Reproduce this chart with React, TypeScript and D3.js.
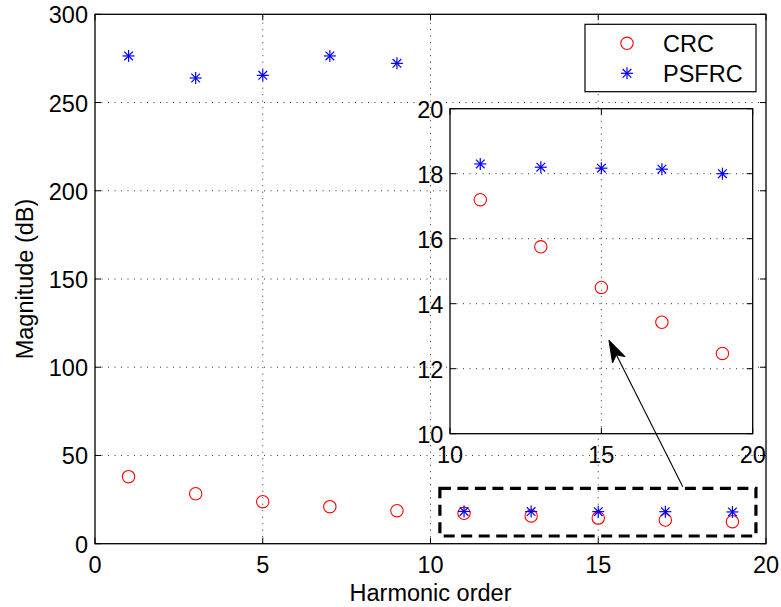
import React from "react";
import * as d3 from "d3";

const harmonics = [1, 3, 5, 7, 9, 11, 13, 15, 17, 19];
const crcValues = [38.0, 28.3, 23.8, 21.0, 18.7, 17.2, 15.75, 14.5, 13.43, 12.47];
const psfrcValues = [276.4, 263.9, 265.4, 276.4, 272.2, 18.3, 18.2, 18.17, 18.14, 18.0];
const seriesNames = ["CRC", "PSFRC"];
const mainXTicks = [0, 5, 10, 15, 20];
const mainYTicks = [0, 50, 100, 150, 200, 250, 300];
const insetXTicks = [10, 15, 20];
const insetYTicks = [10, 12, 14, 16, 18, 20];
const zoomBox = { x0: 10.28, x1: 19.7, y0: 4.36, y1: 31.4 };
const arrowFrom = { x: 17.52, y: 32.3 };
const arrowTo = { x: 15.25, y: 12.88 };

const FONT = "Liberation Sans, Arial, Helvetica, sans-serif";
const FS = 23.5;

function Star({ cx, cy, r, color }: { cx: number; cy: number; r: number; color: string }) {
  const d = r * 0.72;
  return (
    <g stroke={color} strokeWidth={1.2}>
      <line x1={cx - r} y1={cy} x2={cx + r} y2={cy} />
      <line x1={cx} y1={cy - r} x2={cx} y2={cy + r} />
      <line x1={cx - d} y1={cy - d} x2={cx + d} y2={cy + d} />
      <line x1={cx - d} y1={cy + d} x2={cx + d} y2={cy - d} />
    </g>
  );
}

export default function App() {
  const W = 781, H = 607;
  const x = d3.scaleLinear().domain([0, 20]).range([95, 766]);
  const y = d3.scaleLinear().domain([0, 300]).range([543.7, 14.3]);
  const ix = d3.scaleLinear().domain([10, 20]).range([450, 752.7]);
  const iy = d3.scaleLinear().domain([10, 20]).range([433.7, 108.7]);
  const tl = 6;
  const pts = harmonics.map((h, i) => ({ h, crc: crcValues[i], ps: psfrcValues[i] }));
  const insetPts = pts.filter((p) => p.h >= 10 && p.h <= 20);

  const ax0 = ix(arrowTo.x), ay0 = iy(arrowTo.y);
  const bx = x(arrowFrom.x), by = y(arrowFrom.y);
  const ang = Math.atan2(ay0 - by, ax0 - bx);
  const hl = 22, hw = 7;
  const ux = Math.cos(ang), uy = Math.sin(ang);
  const baseX = ax0 - ux * hl, baseY = ay0 - uy * hl;
  const head = `M${ax0},${ay0} L${baseX - uy * hw},${baseY + ux * hw} L${ax0 - ux * hl * 0.75},${ay0 - uy * hl * 0.75} L${baseX + uy * hw},${baseY - ux * hw} Z`;

  return (
    <svg width={W} height={H} style={{ position: "absolute", left: 0, top: 0 }} fontFamily={FONT}>
      <rect x={0} y={0} width={W} height={H} fill="#fff" />
      {/* main grid */}
      <g stroke="#333" strokeWidth={1} strokeDasharray="1,5.5">
        {mainXTicks.slice(1, -1).map((t) => (
          <line key={"gx" + t} x1={x(t)} x2={x(t)} y1={y(0)} y2={y(300)} />
        ))}
        {mainYTicks.slice(1, -1).map((t) => (
          <line key={"gy" + t} x1={x(0)} x2={x(20)} y1={y(t)} y2={y(t)} />
        ))}
      </g>
      {/* main ticks */}
      <g stroke="#000" strokeWidth={1}>
        {mainXTicks.map((t) => (
          <g key={"tx" + t}>
            <line x1={x(t)} x2={x(t)} y1={y(0)} y2={y(0) - tl} />
            <line x1={x(t)} x2={x(t)} y1={y(300)} y2={y(300) + tl} />
          </g>
        ))}
        {mainYTicks.map((t) => (
          <g key={"ty" + t}>
            <line x1={x(0)} x2={x(0) + tl} y1={y(t)} y2={y(t)} />
            <line x1={x(20)} x2={x(20) - tl} y1={y(t)} y2={y(t)} />
          </g>
        ))}
      </g>
      <rect x={x(0)} y={y(300)} width={x(20) - x(0)} height={y(0) - y(300)} fill="none" stroke="#000" strokeWidth={1.3} />
      {/* main tick labels */}
      <g fontSize={FS} fill="#000">
        {mainXTicks.map((t) => (
          <text key={"lx" + t} x={x(t)} y={573} textAnchor="middle">{t}</text>
        ))}
        {mainYTicks.map((t) => (
          <text key={"ly" + t} x={88} y={y(t) + 9} textAnchor="end">{t}</text>
        ))}
      </g>
      <text x={x(10)} y={600.5} textAnchor="middle" fontSize={FS}>Harmonic order</text>
      <text transform={`translate(33,${(y(0) + y(300)) / 2}) rotate(-90)`} textAnchor="middle" fontSize={FS}>Magnitude (dB)</text>
      {/* main points */}
      <g>
        {pts.map((p) => (
          <circle key={"c" + p.h} cx={x(p.h)} cy={y(p.crc)} r={6.2} fill="none" stroke="#ff0000" strokeWidth={1.1} />
        ))}
        {pts.map((p) => (
          <Star key={"s" + p.h} cx={x(p.h)} cy={y(p.ps)} r={6} color="#0000ff" />
        ))}
      </g>
      {/* dashed zoom box */}
      <rect x={x(zoomBox.x0)} y={y(zoomBox.y1)} width={x(zoomBox.x1) - x(zoomBox.x0)} height={y(zoomBox.y0) - y(zoomBox.y1)} fill="none" stroke="#000" strokeWidth={3.2} strokeDasharray="11,6.5" />
      {/* legend */}
      <g>
        <rect x={585} y={24.3} width={171} height={67.4} fill="#fff" stroke="#000" strokeWidth={1.2} />
        <circle cx={627} cy={43.3} r={6.2} fill="none" stroke="#ff0000" strokeWidth={1.1} />
        <Star cx={627} cy={73.3} r={6} color="#0000ff" />
        <text x={663} y={43.3 + 8.6} fontSize={FS}>{seriesNames[0]}</text>
        <text x={663} y={73.3 + 8.6} fontSize={FS}>{seriesNames[1]}</text>
      </g>
      {/* inset */}
      <rect x={ix(10)} y={iy(20)} width={ix(20) - ix(10)} height={iy(10) - iy(20)} fill="#fff" />
      <g stroke="#333" strokeWidth={1} strokeDasharray="1,5.5">
        {insetXTicks.slice(1, -1).map((t) => (
          <line key={"igx" + t} x1={ix(t)} x2={ix(t)} y1={iy(10)} y2={iy(20)} />
        ))}
        {insetYTicks.slice(1, -1).map((t) => (
          <line key={"igy" + t} x1={ix(10)} x2={ix(20)} y1={iy(t)} y2={iy(t)} />
        ))}
      </g>
      <g stroke="#000" strokeWidth={1}>
        {insetXTicks.map((t) => (
          <g key={"itx" + t}>
            <line x1={ix(t)} x2={ix(t)} y1={iy(10)} y2={iy(10) - tl} />
            <line x1={ix(t)} x2={ix(t)} y1={iy(20)} y2={iy(20) + tl} />
          </g>
        ))}
        {insetYTicks.map((t) => (
          <g key={"ity" + t}>
            <line x1={ix(10)} x2={ix(10) + tl} y1={iy(t)} y2={iy(t)} />
            <line x1={ix(20)} x2={ix(20) - tl} y1={iy(t)} y2={iy(t)} />
          </g>
        ))}
      </g>
      <rect x={ix(10)} y={iy(20)} width={ix(20) - ix(10)} height={iy(10) - iy(20)} fill="none" stroke="#000" strokeWidth={1.3} />
      <g fontSize={FS} fill="#000">
        {insetXTicks.map((t) => (
          <text key={"ilx" + t} x={ix(t)} y={463} textAnchor="middle">{t}</text>
        ))}
        {insetYTicks.map((t) => (
          <text key={"ily" + t} x={443.3} y={iy(t) + 9} textAnchor="end">{t}</text>
        ))}
      </g>
      <g>
        {insetPts.map((p) => (
          <circle key={"ic" + p.h} cx={ix(p.h)} cy={iy(p.crc)} r={6.2} fill="none" stroke="#ff0000" strokeWidth={1.1} />
        ))}
        {insetPts.map((p) => (
          <Star key={"is" + p.h} cx={ix(p.h)} cy={iy(p.ps)} r={6} color="#0000ff" />
        ))}
      </g>
      {/* arrow */}
      <line x1={bx} y1={by} x2={ax0 - ux * hl * 0.7} y2={ay0 - uy * hl * 0.7} stroke="#000" strokeWidth={1.1} />
      <path d={head} fill="#000" stroke="#000" strokeWidth={1} />
    </svg>
  );
}
